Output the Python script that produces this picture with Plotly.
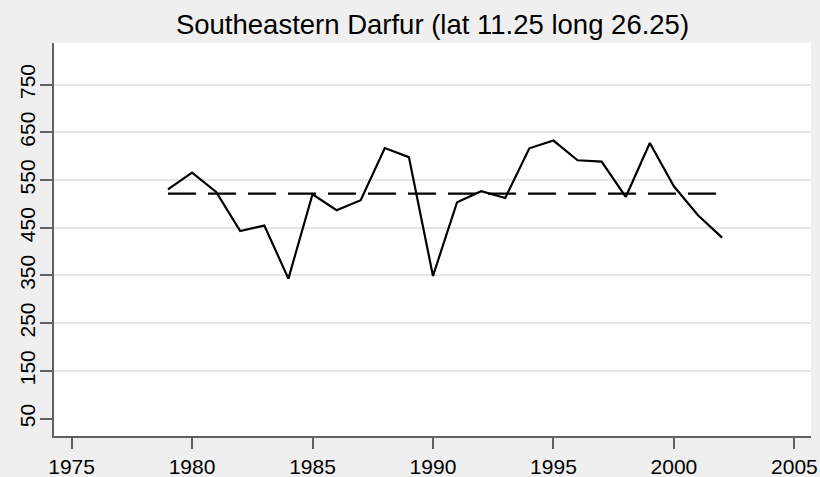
import plotly.graph_objects as go

years = list(range(1979, 2003))
rainfall = [530.6, 565.6, 525.0, 443.0, 454.5, 343.4, 520.1, 486.6, 507.6, 617.0,
            598.0, 349.0, 503.4, 526.4, 512.4, 616.5, 632.7, 591.4, 588.7, 514.5,
            627.7, 536.9, 476.1, 429.4]
mean_value = 521.5
x_ticks = [1975, 1980, 1985, 1990, 1995, 2000, 2005]
y_ticks = [50, 150, 250, 350, 450, 550, 650, 750]
grid_ticks = [150, 250, 350, 450, 550, 650, 750]
x_range = [1974.27, 2005.69]
y_range = [13.5, 837.2]
title = "Southeastern Darfur (lat 11.25 long 26.25)"

FONT = "Liberation Sans, Arial, Helvetica, sans-serif"
AXIS_COLOR = "#606060"

fig = go.Figure()
fig.add_trace(go.Scatter(
    x=years, y=rainfall, mode="lines",
    line=dict(color="black", width=2.2), showlegend=False, hoverinfo="skip"))
fig.add_trace(go.Scatter(
    x=[years[0], years[-1]], y=[mean_value, mean_value], mode="lines",
    line=dict(color="black", width=2.2, dash="28px,12px"), showlegend=False,
    hoverinfo="skip"))
# invisible trace to activate the grid axis
fig.add_trace(go.Scatter(x=[years[0]], y=[mean_value], yaxis="y2", mode="lines",
                         showlegend=False, hoverinfo="skip", opacity=0))

fig.update_layout(
    width=820, height=477,
    margin=dict(l=54, r=9, t=43, b=41, autoexpand=False),
    paper_bgcolor="#efefef",
    plot_bgcolor="white",
    font=dict(family=FONT, color="black", size=21),
    title=dict(text=title, x=0.5, xref="paper", xanchor="center",
               y=0.948, yref="container", yanchor="middle", automargin=False,
               font=dict(family=FONT, size=27.5, color="black")),
    xaxis=dict(range=x_range, tickvals=x_ticks, ticktext=[str(v) for v in x_ticks],
               showgrid=False, zeroline=False, showline=True, linecolor=AXIS_COLOR,
               linewidth=1.5, ticks="outside", ticklen=11, tickwidth=1.5,
               tickcolor=AXIS_COLOR, automargin=False,
               tickfont=dict(size=21, family=FONT)),
    yaxis=dict(range=y_range, tickvals=y_ticks, ticktext=[str(v) for v in y_ticks],
               showgrid=False, zeroline=False, showline=True, linecolor=AXIS_COLOR,
               linewidth=1.5, ticks="outside", ticklen=12, tickwidth=1.5,
               tickcolor=AXIS_COLOR, tickangle=-90, automargin=False,
               ticklabelstandoff=-3,
               tickfont=dict(size=21, family=FONT)),
    yaxis2=dict(range=y_range, tickvals=grid_ticks, overlaying="y", side="left",
                showgrid=True, gridcolor="#e6e6e6", gridwidth=1.5, automargin=False,
                showticklabels=False, ticks="", zeroline=False, showline=False),
)

fig.write_html("out.html", config={"displayModeBar": False},
               post_script="document.body.style.margin='0';document.body.style.padding='0';")
